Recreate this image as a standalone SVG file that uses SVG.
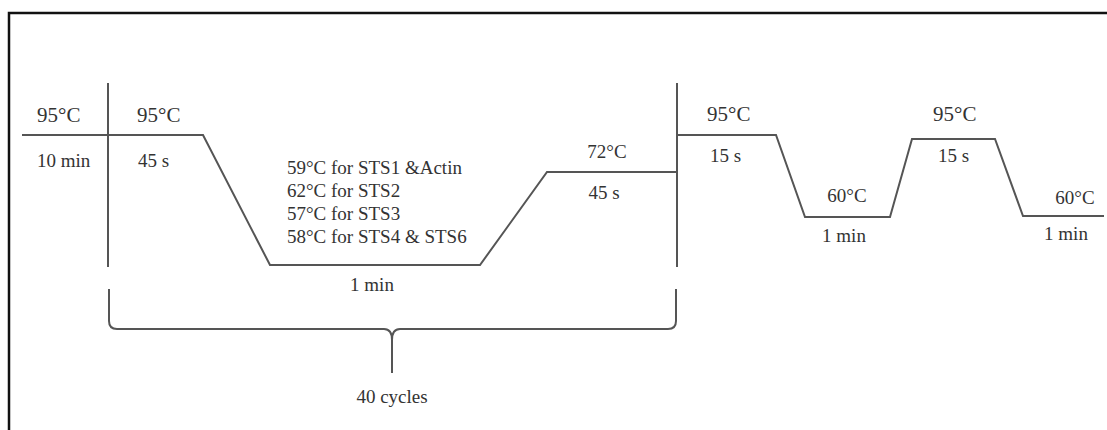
<svg xmlns="http://www.w3.org/2000/svg" width="1107" height="430" viewBox="0 0 1107 430">
<style>
.ln{fill:none;stroke:#555;stroke-width:2;stroke-linejoin:miter}
.t{font-family:"Liberation Serif","Times New Roman",serif;font-size:19px;fill:#333}
.tb{font-family:"Liberation Serif","Times New Roman",serif;font-size:21px;fill:#333}
.m{text-anchor:middle}
</style>
<rect x="0" y="0" width="1107" height="430" fill="#fff"/>
<g id="frame">
<path d="M9,431 V13 H1108" fill="none" stroke="#111" stroke-width="2.5"/>
</g>
<g id="connectors">
<line class="ln" x1="108" y1="83" x2="108" y2="267"/>
<line class="ln" x1="677" y1="83" x2="677" y2="267"/>
<path class="ln" d="M22,135 H203 L270,265 H480 L547,172 H677"/>
<path class="ln" d="M677,135 H776 L805,217 H890 L912,139 H995 L1023,216 H1104"/>
<path class="ln" d="M109,289 V321 Q109,329 117,329 H384 Q392,329 392,340 V373 M392,340 Q392,329 400,329 H668 Q676,329 676,321 V289"/>
</g>
<g id="initial-denaturation">
<text class="tb" x="37" y="122">95°C</text>
<text class="t" x="37" y="167">10 min</text>
</g>
<g id="denaturation">
<text class="tb" x="137" y="122">95°C</text>
<text class="t" x="138" y="167">45 s</text>
</g>
<g id="annealing">
<text class="t" x="287" y="174">59°C for STS1 &amp;Actin</text>
<text class="t" x="287" y="197">62°C for STS2</text>
<text class="t" x="287" y="220">57°C for STS3</text>
<text class="t" x="287" y="243">58°C for STS4 &amp; STS6</text>
<text class="t m" x="372" y="291">1 min</text>
</g>
<g id="extension">
<text class="t m" x="607" y="158">72°C</text>
<text class="t m" x="604" y="199">45 s</text>
</g>
<g id="melt-1">
<text class="tb" x="707" y="121">95°C</text>
<text class="t" x="710" y="162">15 s</text>
</g>
<g id="melt-2">
<text class="t m" x="847" y="202">60°C</text>
<text class="t m" x="844" y="242">1 min</text>
</g>
<g id="melt-3">
<text class="tb" x="933" y="121">95°C</text>
<text class="t" x="938" y="162">15 s</text>
</g>
<g id="melt-4">
<text class="t m" x="1075" y="204">60°C</text>
<text class="t m" x="1066" y="240">1 min</text>
</g>
<g id="cycles">
<text class="t m" x="392" y="403">40 cycles</text>
</g>
</svg>
